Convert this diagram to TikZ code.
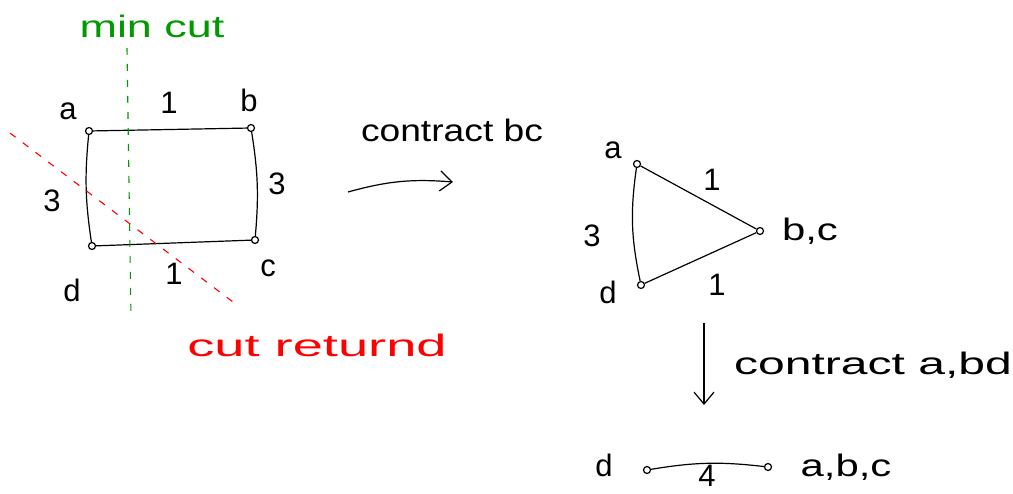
\documentclass[tikz,border=0pt]{standalone}
\usepackage{fontspec}
\setmainfont{Liberation Sans}
\usetikzlibrary{arrows.meta}
\newcommand{\hwide}[2]{\scalebox{#1}[1]{#2}}
\begin{document}
\begin{tikzpicture}[x=1pt,y=-1pt,
  vtx/.style={circle,draw,line width=1.2pt,inner sep=0pt,minimum size=7pt},
  lbl/.style={inner sep=0pt,font=\fontsize{31}{36}\selectfont},
  edge/.style={line width=1.2pt},
  cutline/.style={line width=1.1pt,dash pattern=on 7pt off 9pt},
  harrow/.style={line width=1.2pt,-{Straight Barb[length=12pt,width=20pt,line width=1.2pt]}}
]
\useasboundingbox (0,0) rectangle (1013,494);
% left graph
\node[vtx] (a) at (89,131) {};
\node[vtx] (b) at (251,128) {};
\node[vtx] (c) at (255,240) {};
\node[vtx] (d) at (92,246) {};
\draw[edge] (a) -- (b);
\draw[edge] (d) -- (c);
\draw[edge] (a) to[bend right=7] (d);
\draw[edge] (b) to[bend left=7] (c);
\node[lbl] (la) at (68,111) {a};
\node[lbl] (lb) at (249,100) {b};
\node[lbl] (lc) at (268,268) {c};
\node[lbl] (ld) at (72,290) {d};
\node[lbl] (w1) at (169,103) {1};
\node[lbl] (w2) at (52,201) {3};
\node[lbl] (w3) at (277,184) {3};
\node[lbl] (w4) at (174,274) {1};
% cuts
\coordinate (g1) at (127,48);
\coordinate (g2) at (131,318);
\draw[cutline, green!60!black] (g1) -- (g2);
\node[lbl, text=green!60!black] (mincut) at (152,26) {\hwide{1.45}{min cut}};
\coordinate (r1) at (10,133);
\coordinate (r2) at (233,302);
\draw[cutline, red] (r1) -- (r2);
\node[lbl, text=red] (cutret) at (317,345) {\hwide{1.75}{cut returnd}};
% first contraction arrow
\coordinate (ar1) at (348,192);
\coordinate (ar2) at (453,182);
\draw[harrow] (ar1) to[bend left=10] (ar2);
\node[lbl] (con1) at (452,130) {\hwide{1.2}{contract bc}};
% triangle
\node[vtx] (ta) at (637,164) {};
\node[vtx] (tbc) at (760,231) {};
\node[vtx] (td) at (641,285) {};
\draw[edge] (ta) -- (tbc);
\draw[edge] (td) -- (tbc);
\draw[edge] (ta) to[bend right=10] (td);
\node[lbl] (tla) at (613,150) {a};
\node[lbl] (tlbc) at (810,231) {\hwide{1.35}{b,c}};
\node[lbl] (tld) at (608,292) {d};
\node[lbl] (tw1) at (592,236) {3};
\node[lbl] (tw2) at (712,180) {1};
\node[lbl] (tw3) at (717,285) {1};
% second contraction arrow
\coordinate (dn1) at (704,323);
\coordinate (dn2) at (704,405);
\draw[harrow] (dn1) -- (dn2);
\node[lbl] (con2) at (873,365) {\hwide{1.55}{contract a,bd}};
% final
\node[vtx] (fd) at (647,470) {};
\node[vtx] (fabc) at (768,467) {};
\draw[edge] (fd) to[bend left=8] (fabc);
\node[lbl] (fld) at (604,465) {d};
\node[lbl] (fw) at (707,476) {4};
\node[lbl] (flabc) at (846,467) {\hwide{1.35}{a,b,c}};
\end{tikzpicture}
\end{document}
